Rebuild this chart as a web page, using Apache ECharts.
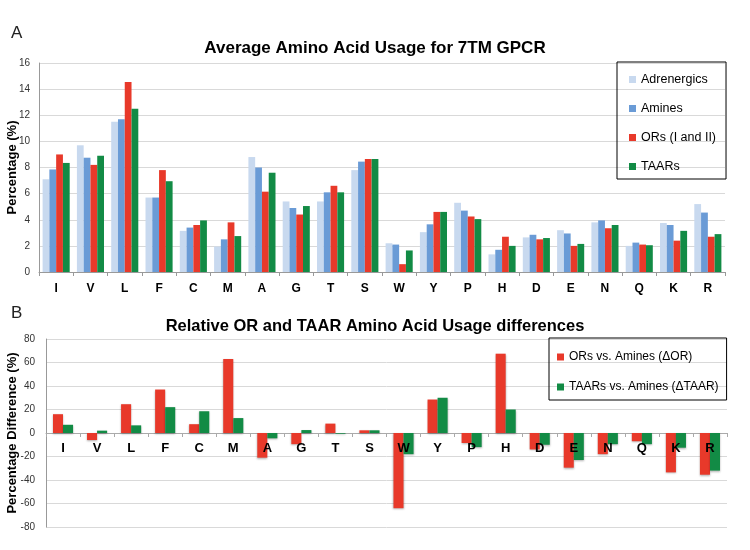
<!DOCTYPE html>
<html>
<head>
<meta charset="utf-8">
<script src="https://cdn.jsdelivr.net/npm/echarts@6/dist/echarts.min.js"></script>
<style>html,body{margin:0;padding:0;background:#fff}#c{width:750px;height:550px}</style>
</head>
<body>
<div id="c"></div>
<script>
const categories = ['I','V','L','F','C','M','A','G','T','S','W','Y','P','H','D','E','N','Q','K','R'];
const adrenergics = [7.1,9.7,11.5,5.7,3.15,1.95,8.8,5.4,5.4,7.8,2.2,3.05,5.3,1.35,2.65,3.2,3.8,2.0,3.75,5.2];
const amines = [7.85,8.75,11.7,5.7,3.4,2.5,8.0,4.9,6.1,8.45,2.1,3.65,4.7,1.7,2.85,2.95,3.95,2.25,3.6,4.55];
const ors = [9.0,8.2,14.55,7.8,3.6,3.8,6.15,4.4,6.6,8.65,0.6,4.6,4.25,2.7,2.5,2.0,3.35,2.1,2.4,2.7];
const taars = [8.35,8.9,12.5,6.95,3.95,2.75,7.6,5.05,6.1,8.65,1.65,4.6,4.05,2.0,2.6,2.15,3.6,2.05,3.15,2.9];
const deltaOR = [16,-6,24.5,37,7.5,63,-21,-9.5,8,2.3,-64,28.5,-8.5,67.5,-14,-29.5,-18,-7,-33.5,-35.5];
const deltaTAAR = [7,2,6.5,22,18.5,12.7,-4.5,2.5,-0.6,2.3,-18,30,-12,20,-10,-23,-9.5,-9.5,-12.5,-32];
const topTicks = [0,2,4,6,8,10,12,14,16];
const bottomTicks = [-80,-60,-40,-20,0,20,40,60,80];

const C_ADR = '#c8d9ef', C_AMI = '#6a9bd6', C_OR = '#e8392a', C_TAAR = '#128b45';
const chart = echarts.init(document.getElementById('c'));
const F = 'Arial, "Liberation Sans", sans-serif';

function bar(name, data, color, xi, yi, shadow) {
  return {
    name, type: 'bar', data, xAxisIndex: xi, yAxisIndex: yi,
    barGap: '0%', barCategoryGap: xi === 0 ? '21%' : '41%',
    itemStyle: Object.assign({ color }, shadow ? { shadowColor: 'rgba(0,0,0,0.3)', shadowBlur: 2, shadowOffsetY: 1 } : {}),
    emphasis: { disabled: true }, animation: false
  };
}

// bottom panel geometry: zero line position for the label strip grid
const B_TOP = 339, B_BOTTOM = 23, H = 550;
const bMin = bottomTicks[0], bMax = bottomTicks[bottomTicks.length - 1];
const zeroY = B_TOP + (bMax / (bMax - bMin)) * (H - B_TOP - B_BOTTOM);

chart.setOption({
  animation: false,
  title: [
    { text: 'A', left: 6, top: 20, textStyle: { fontFamily: F, fontWeight: 'normal', fontSize: 17, color: '#222' } },
    { text: 'Average Amino Acid Usage for 7TM GPCR', left: 'center', top: 35, textStyle: { fontFamily: '"Liberation Sans Narrow", Arial, sans-serif', fontWeight: 'bold', fontSize: 17, color: '#000' } },
    { text: 'B', left: 6, top: 300, textStyle: { fontFamily: F, fontWeight: 'normal', fontSize: 17, color: '#222' } },
    { text: 'Relative OR and TAAR Amino Acid Usage differences', left: 'center', top: 313, textStyle: { fontFamily: F, fontWeight: 'bold', fontSize: 16.5, color: '#000' } }
  ],
  legend: [
    {
      data: ['Adrenergics', 'Amines', 'ORs (I and II)', 'TAARs'],
      orient: 'vertical', left: 617, top: 62,
      padding: [11, 10, 6, 12], itemGap: 16,
      itemWidth: 7, itemHeight: 7, icon: 'rect',
      borderColor: '#000', borderWidth: 1,
      textStyle: { fontFamily: F, fontSize: 12.5, color: '#000' },
      selectedMode: false
    },
    {
      data: ['ORs vs. Amines (\u0394OR)', 'TAARs vs. Amines (\u0394TAAR)'],
      orient: 'vertical', left: 549, top: 338,
      padding: [13, 8, 7, 8], itemGap: 18,
      itemWidth: 7, itemHeight: 7, icon: 'rect',
      borderColor: '#000', borderWidth: 1,
      textStyle: { fontFamily: F, fontSize: 12, color: '#000' },
      selectedMode: false
    }
  ],
  grid: [
    { left: 39, top: 63, right: 25, bottom: 278, outerBoundsMode: 'none', containLabel: false },
    { left: 46, top: B_TOP, right: 23, bottom: B_BOTTOM, outerBoundsMode: 'none', containLabel: false },
    { left: 46, top: B_TOP, right: 23, bottom: H - zeroY, outerBoundsMode: 'none', containLabel: false }
  ],
  xAxis: [
    {
      type: 'category', data: categories, gridIndex: 0,
      axisLine: { lineStyle: { color: '#999' } },
      axisTick: { show: true, length: 4, lineStyle: { color: '#999' } },
      axisLabel: { fontFamily: F, fontWeight: 'bold', fontSize: 12, color: '#000', margin: 11 }
    },
    {
      type: 'category', data: categories, gridIndex: 1,
      axisLine: { onZero: true, lineStyle: { color: '#aaa' } },
      axisTick: { show: true, length: 4, lineStyle: { color: '#aaa' } },
      axisLabel: { show: false }
    },
    {
      type: 'category', data: categories, gridIndex: 2,
      axisLine: { show: false }, axisTick: { show: false },
      axisLabel: { fontFamily: F, fontWeight: 'bold', fontSize: 13, color: '#000', margin: 9 },
      z: 10
    }
  ],
  yAxis: [
    {
      type: 'value', gridIndex: 0, min: topTicks[0], max: topTicks[topTicks.length - 1], interval: 2,
      name: 'Percentage (%)', nameLocation: 'middle', nameGap: 20, nameMoveOverlap: false,
      nameTextStyle: { fontFamily: F, fontWeight: 'bold', fontSize: 13, color: '#000' },
      axisLine: { show: true, lineStyle: { color: '#999' } },
      axisTick: { show: false },
      axisLabel: { fontFamily: F, fontSize: 10, color: '#333', margin: 9 },
      splitLine: { lineStyle: { color: '#d9d9d9' } }
    },
    {
      type: 'value', gridIndex: 1, min: bMin, max: bMax, interval: 20,
      name: 'Percentage Difference (%)', nameLocation: 'middle', nameGap: 27, nameMoveOverlap: false,
      nameTextStyle: { fontFamily: F, fontWeight: 'bold', fontSize: 13, color: '#000' },
      axisLine: { show: true, lineStyle: { color: '#999' } },
      axisTick: { show: false },
      axisLabel: { fontFamily: F, fontSize: 10, color: '#333', margin: 11 },
      splitLine: { lineStyle: { color: '#d9d9d9' } }
    },
    {
      type: 'value', gridIndex: 2, min: 0, max: 1, show: false
    }
  ],
  series: [
    bar('Adrenergics', adrenergics, C_ADR, 0, 0),
    bar('Amines', amines, C_AMI, 0, 0),
    bar('ORs (I and II)', ors, C_OR, 0, 0),
    bar('TAARs', taars, C_TAAR, 0, 0),
    bar('ORs vs. Amines (\u0394OR)', deltaOR, C_OR, 1, 1, true),
    bar('TAARs vs. Amines (\u0394TAAR)', deltaTAAR, C_TAAR, 1, 1, true)
  ]
});
</script>
</body>
</html>
